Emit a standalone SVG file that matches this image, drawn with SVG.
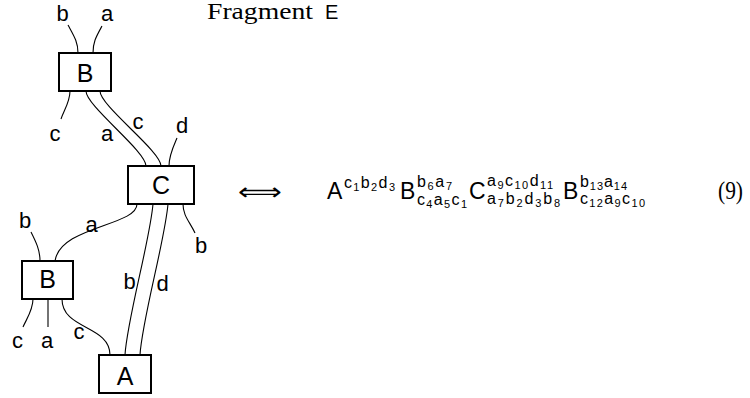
<svg xmlns="http://www.w3.org/2000/svg" width="750" height="398" viewBox="0 0 750 398">
<style>
.box{fill:#fff;stroke:#000;stroke-width:2}
.w{fill:none;stroke:#000;stroke-width:1.1}
.bl{font-family:"Liberation Sans",Arial,sans-serif;font-size:25px;text-anchor:middle;fill:#000}
.lb{font-family:"Liberation Sans",Arial,sans-serif;font-size:22px;text-anchor:middle;fill:#000}
.m{font-family:"Liberation Sans",Arial,sans-serif;font-size:23px;fill:#000}
.s{font-family:"Liberation Sans",Arial,sans-serif;font-size:16px;fill:#000}
.d{font-size:11px}
.rm{font-family:"Liberation Serif","Times New Roman",serif;font-size:23px;fill:#000}
</style>
<rect width="750" height="398" fill="#fff"/>
<g id="connectors">
<path class="w" d="M68,25 C74,36 78,42 78,53"/>
<path class="w" d="M102,26 C96,37 93,42 93,53"/>
<path class="w" d="M70,91 C70,102 64,110 61,119"/>
<path class="w" d="M86,91 C86,106 146,151 146,166"/>
<path class="w" d="M100,91 C100,106 161,151 161,166"/>
<path class="w" d="M169,166 C169,155 174,145 177,138"/>
<path class="w" d="M137,204 C137,226 60,226 55,261"/>
<path class="w" d="M183,204 C183,216 190,222 195,233"/>
<path class="w" d="M153,204 C150,240 127,320 125,355"/>
<path class="w" d="M168,204 C165,240 142,320 140,355"/>
<path class="w" d="M31,232 C36,242 40,250 40,261"/>
<path class="w" d="M33,299 C33,310 27,318 23,327"/>
<path class="w" d="M48,299 L48,327"/>
<path class="w" d="M62,299 C62,330 110,325 110,355"/>
</g>
<g id="labels">
<text class="lb" x="62.5" y="21">b</text>
<text class="lb" x="107" y="21">a</text>
<text class="lb" x="55" y="141">c</text>
<text class="lb" x="107" y="141">a</text>
<text class="lb" x="138" y="129">c</text>
<text class="lb" x="182" y="133">d</text>
<text class="lb" x="91.5" y="232">a</text>
<text class="lb" x="201" y="253">b</text>
<text class="lb" x="25" y="228">b</text>
<text class="lb" x="129.5" y="289">b</text>
<text class="lb" x="162.5" y="291">d</text>
<text class="lb" x="17.5" y="348">c</text>
<text class="lb" x="47" y="348">a</text>
<text class="lb" x="79" y="339">c</text>
</g>
<g id="node-B-top"><rect class="box" x="59" y="53" width="52" height="38"/><text class="bl" x="85" y="82">B</text></g>
<g id="node-C"><rect class="box" x="128" y="166" width="66" height="38"/><text class="bl" x="161" y="194">C</text></g>
<g id="node-B-left"><rect class="box" x="22" y="261" width="51" height="38"/><text class="bl" x="47.5" y="288">B</text></g>
<g id="node-A"><rect class="box" x="99" y="355" width="52" height="38"/><text class="bl" x="125" y="385">A</text></g>
<g id="title">
<text class="rm" x="207" y="19" textLength="106" lengthAdjust="spacingAndGlyphs">Fragment</text>
<text class="m" x="325" y="19" style="font-size:20px">E</text>
</g>
<g id="formula">
<text x="238" y="200" textLength="44" lengthAdjust="spacingAndGlyphs" style="font-family:'DejaVu Sans',sans-serif;font-size:24px">⟺</text>
<text class="m" x="327" y="199">A</text>
<text class="s" x="344" y="188" textLength="51">c<tspan class="d" dy="2.5">1</tspan><tspan dy="-2.5">b</tspan><tspan class="d" dy="2.5">2</tspan><tspan dy="-2.5">d</tspan><tspan class="d" dy="2.5">3</tspan></text>
<text class="m" x="400" y="199">B</text>
<text class="s" x="417" y="187" textLength="35">b<tspan class="d" dy="2.5">6</tspan><tspan dy="-2.5">a</tspan><tspan class="d" dy="2.5">7</tspan></text>
<text class="s" x="417" y="205" textLength="50">c<tspan class="d" dy="2.5">4</tspan><tspan dy="-2.5">a</tspan><tspan class="d" dy="2.5">5</tspan><tspan dy="-2.5">c</tspan><tspan class="d" dy="2.5">1</tspan></text>
<text class="m" x="469" y="199">C</text>
<text class="s" x="487" y="186" textLength="66">a<tspan class="d" dy="2.5">9</tspan><tspan dy="-2.5">c</tspan><tspan class="d" dy="2.5">10</tspan><tspan dy="-2.5">d</tspan><tspan class="d" dy="2.5">11</tspan></text>
<text class="s" x="487" y="204" textLength="73">a<tspan class="d" dy="2.5">7</tspan><tspan dy="-2.5">b</tspan><tspan class="d" dy="2.5">2</tspan><tspan dy="-2.5">d</tspan><tspan class="d" dy="2.5">3</tspan><tspan dy="-2.5">b</tspan><tspan class="d" dy="2.5">8</tspan></text>
<text class="m" x="563" y="199">B</text>
<text class="s" x="580" y="187" textLength="47">b<tspan class="d" dy="2.5">13</tspan><tspan dy="-2.5">a</tspan><tspan class="d" dy="2.5">14</tspan></text>
<text class="s" x="580" y="204" textLength="65">c<tspan class="d" dy="2.5">12</tspan><tspan dy="-2.5">a</tspan><tspan class="d" dy="2.5">9</tspan><tspan dy="-2.5">c</tspan><tspan class="d" dy="2.5">10</tspan></text>
<text class="rm" x="718" y="199" textLength="25" lengthAdjust="spacingAndGlyphs" style="font-size:25px">(9)</text>
</g>
</svg>
